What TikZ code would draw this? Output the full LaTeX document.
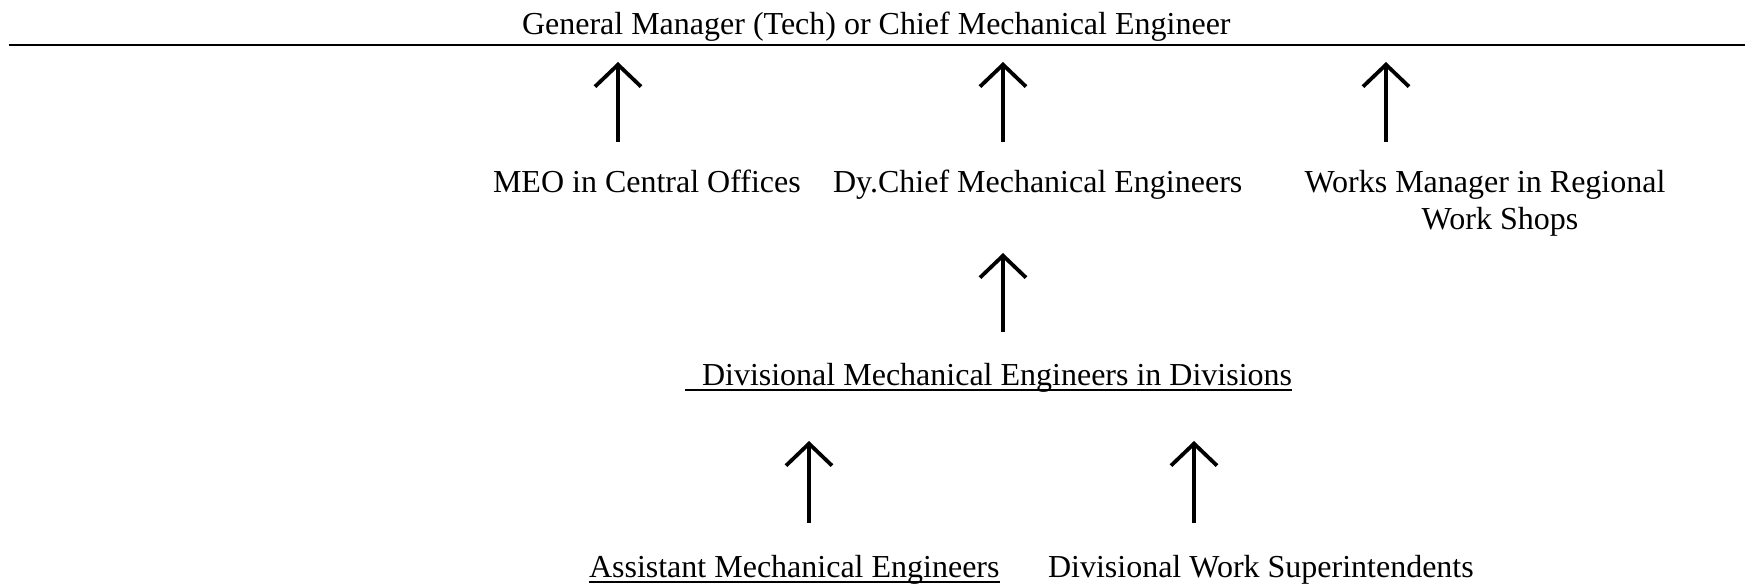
\documentclass[tikz,border=0pt]{standalone}
\usepackage{fontspec}
\setmainfont{Liberation Serif}
\usetikzlibrary{arrows.meta}
\begin{document}
\begin{tikzpicture}[x=1pt,y=-1pt,
  lbl/.style={inner sep=0pt,outer sep=0pt,font=\fontsize{32}{37}\selectfont},
  arr/.style={line width=4pt,-{Straight Barb[length=22pt,width=46pt,line width=3.8pt]}},
  uline/.style={line width=2.2pt},
  rule/.style={line width=2.5pt}]
\useasboundingbox (0,0) rectangle (1753,585);
% top
\node[lbl,anchor=base west] (gm) at (522,35) {General Manager (Tech) or Chief Mechanical Engineer};
\coordinate (rl) at (9,45);
\coordinate (rr) at (1745,45);
\draw[rule] (rl) -- (rr);
% row 2
\node[lbl,anchor=base west] (meo) at (493,193) {MEO in Central Offices};
\node[lbl,anchor=base west] (dcme) at (833,193) {Dy.Chief Mechanical Engineers};
\node[lbl,anchor=base,align=center] (wm) at (1485,230) {Works Manager in Regional\\ \hspace*{30pt}Work Shops};
% row 3
\node[lbl,anchor=base west] (dme) at (702,385) {Divisional Mechanical Engineers in Divisions};
\draw[uline] ([xshift=-17pt,yshift=-5pt]dme.base west) -- ([yshift=-5pt]dme.base east);
% row 4
\node[lbl,anchor=base west] (ame) at (589,577) {Assistant Mechanical Engineers};
\draw[uline] ([yshift=-5pt]ame.base west) -- ([yshift=-5pt]ame.base east);
\node[lbl,anchor=base west] (dws) at (1048,577) {Divisional Work Superintendents};
% arrow ends
\coordinate (a1s) at (618,142); \coordinate (a1e) at (618,62);
\coordinate (a2s) at (1003,142); \coordinate (a2e) at (1003,62);
\coordinate (a3s) at (1386,142); \coordinate (a3e) at (1386,62);
\coordinate (a4s) at (1003,332); \coordinate (a4e) at (1003,253);
\coordinate (a5s) at (809,523); \coordinate (a5e) at (809,441);
\coordinate (a6s) at (1194,523); \coordinate (a6e) at (1194,441);
\draw[arr] (a1s) -- (a1e);
\draw[arr] (a2s) -- (a2e);
\draw[arr] (a3s) -- (a3e);
\draw[arr] (a4s) -- (a4e);
\draw[arr] (a5s) -- (a5e);
\draw[arr] (a6s) -- (a6e);
\end{tikzpicture}
\end{document}
